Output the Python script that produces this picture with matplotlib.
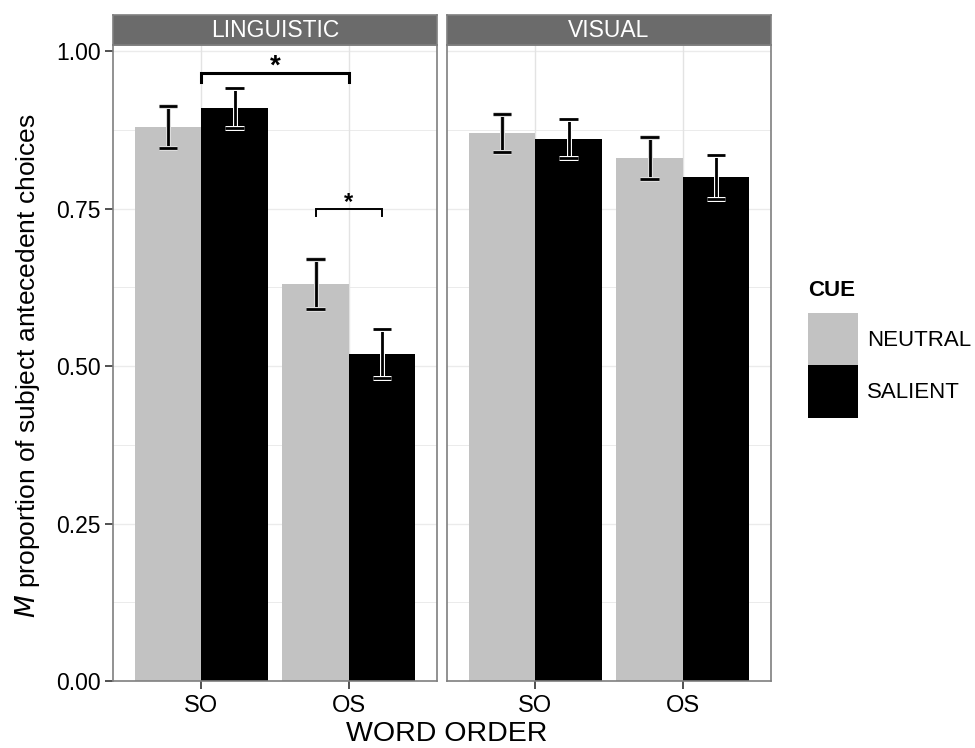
import matplotlib
matplotlib.use("Agg")
import matplotlib.pyplot as plt
import matplotlib.patheffects as pe
from matplotlib.patches import Rectangle
import numpy as np

plt.rcParams['font.family'] = ['Liberation Sans', 'DejaVu Sans']

# ===========================
# DATA
# ===========================
panels = ["LINGUISTIC", "VISUAL"]
word_orders = ["SO", "OS"]
cues = ["NEUTRAL", "SALIENT"]
cue_colors = ["#c2c2c2", "#000000"]

# means per panel / cue, in word order SO, OS
ling_neutral = [0.88, 0.63]
ling_salient = [0.91, 0.52]
vis_neutral = [0.87, 0.83]
vis_salient = [0.86, 0.80]

ling_neutral_lo = [0.846, 0.590]
ling_neutral_hi = [0.913, 0.670]
ling_salient_lo = [0.878, 0.481]
ling_salient_hi = [0.941, 0.559]
vis_neutral_lo = [0.840, 0.797]
vis_neutral_hi = [0.900, 0.864]
vis_salient_lo = [0.830, 0.765]
vis_salient_hi = [0.892, 0.836]

y_ticks = [0.00, 0.25, 0.50, 0.75, 1.00]
y_tick_labels = ["0.00", "0.25", "0.50", "0.75", "1.00"]

# significance brackets in the linguistic panel: (x0, x1, height, drop, linewidth, star size)
brackets = [(1.0, 2.0, 0.966, 0.015, 2.2, 20), (1.775, 2.225, 0.75, 0.012, 1.4, 17)]

means = [[ling_neutral, ling_salient], [vis_neutral, vis_salient]]
lows = [[ling_neutral_lo, ling_salient_lo], [vis_neutral_lo, vis_salient_lo]]
highs = [[ling_neutral_hi, ling_salient_hi], [vis_neutral_hi, vis_salient_hi]]

W, H = 975, 748
fig = plt.figure(figsize=(W / 100, H / 100), dpi=100)

panel_lefts = [113, 447]
panel_w = 324
top_px, bot_px = 45, 681
strip_top = 15

bar_w = 0.45
x = np.arange(1, len(word_orders) + 1)

axes = []
for p, name in enumerate(panels):
    ax = fig.add_axes([panel_lefts[p] / W, 1 - bot_px / H, panel_w / W, (bot_px - top_px) / H])
    axes.append(ax)
    ax.set_xlim(0.4, 2.6)
    ax.set_ylim(0, 1.01)
    ax.set_axisbelow(True)
    for yy in np.arange(0.125, 1.01, 0.125):
        ax.axhline(yy, color="#ebebeb", lw=1.0 if (yy * 4) % 1 == 0 else 0.7, zorder=0)
    for xx in x:
        ax.axvline(xx, color="#e3e3e3", lw=1.0, zorder=0)

    for c in range(len(cues)):
        offs = (c - 0.5) * bar_w
        ax.bar(x + offs, means[p][c], width=bar_w, color=cue_colors[c], zorder=2)
        lo = np.array(lows[p][c])
        hi = np.array(highs[p][c])
        m = np.array(means[p][c])
        halo = "#ffffff" if c == 1 else "#dddddd"
        eb = ax.errorbar(x + offs, m, yerr=[m - lo, hi - m], fmt="none", ecolor="black",
                         elinewidth=2.0, capsize=6.5, capthick=2.0, zorder=3)
        for art in list(eb.lines[1]) + list(eb.lines[2]):
            art.set_path_effects([pe.Stroke(linewidth=3.6, foreground=halo), pe.Normal()])

    for s in ax.spines.values():
        s.set_color("#7f7f7f")
        s.set_linewidth(1.2)
    ax.set_xticks(x)
    ax.set_xticklabels(word_orders, fontsize=17)
    ax.tick_params(axis="x", length=6, width=1.2, color="#333333", pad=4)
    ax.set_yticks(y_ticks)
    if p == 0:
        ax.set_yticklabels(y_tick_labels, fontsize=16.5)
        ax.tick_params(axis="y", length=6, width=1.2, color="#333333", pad=3)
    else:
        ax.tick_params(axis="y", left=False, labelleft=False)

    # facet strip
    sax = fig.add_axes([panel_lefts[p] / W, 1 - top_px / H, panel_w / W, (top_px - strip_top) / H])
    sax.set_xticks([])
    sax.set_yticks([])
    sax.set_facecolor("#6b6b6b")
    for s in sax.spines.values():
        s.set_color("#7f7f7f")
        s.set_linewidth(1.2)
    sax.text(0.5, 0.47, name, color="white", fontsize=16.5, ha="center", va="center",
             transform=sax.transAxes)

# significance brackets
ax0 = axes[0]
for x0, x1, hgt, drop, lw, size in brackets:
    ax0.plot([x0, x0, x1, x1], [hgt - drop, hgt, hgt, hgt - drop], color="black",
             lw=lw, solid_joinstyle="miter", zorder=4, clip_on=False)
    ax0.text((x0 + x1) / 2, hgt - 0.001, "*", fontsize=size,
             fontweight="bold", ha="center", va="baseline", zorder=4)

fig.text(447 / W, 1 - 734 / H, "WORD ORDER", fontsize=20.5, ha="center", va="center")
fig.text(28 / W, 1 - 366 / H, r"$\it{M}$ proportion of subject antecedent choices",
         fontsize=19, rotation=90, ha="center", va="center")

# legend
fig.text(808 / W, 1 - 291 / H, "CUE", fontsize=16, fontweight="bold", ha="left", va="center")
key_tops = [313, 365]
for i, lab in enumerate(cues):
    fig.patches.append(Rectangle((808 / W, 1 - (key_tops[i] + 53) / H), 50 / W, 53 / H,
                                 transform=fig.transFigure, facecolor=cue_colors[i],
                                 edgecolor="none"))
    fig.text(867 / W, 1 - (key_tops[i] + 27) / H, lab, fontsize=16, ha="left", va="center")

fig.savefig("out.png", dpi=100)
